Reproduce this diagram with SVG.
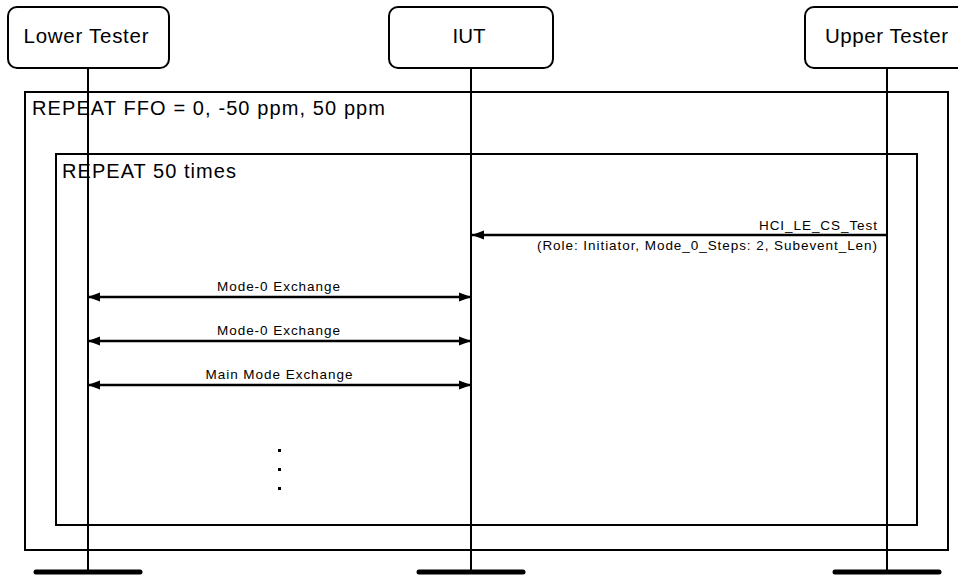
<svg xmlns="http://www.w3.org/2000/svg" width="958" height="576" viewBox="0 0 958 576">
<style>
.box{fill:#fff;stroke:#000;stroke-width:2}
.life{stroke:#000;stroke-width:2;fill:none}
.bar{stroke:#000;stroke-width:5;stroke-linecap:round}
.frame{fill:none;stroke:#000;stroke-width:2}
.msg{stroke:#000;stroke-width:2.5;fill:none}
text{font-family:"Liberation Sans",Arial,sans-serif;fill:#000}
.nlab{font-size:20.5px;text-anchor:middle}
.flab{font-size:20px}
.mlab{font-size:13.5px}
</style>
<defs>
<marker id="ah" markerWidth="12" markerHeight="10" refX="12" refY="5" orient="auto" markerUnits="userSpaceOnUse">
<path d="M0,0.5 L12,5 L0,9.5 Z" fill="#000"/>
</marker>
<marker id="ahs" markerWidth="12" markerHeight="10" refX="0" refY="5" orient="auto" markerUnits="userSpaceOnUse">
<path d="M12,0.5 L0,5 L12,9.5 Z" fill="#000"/>
</marker>
</defs>
<rect width="958" height="576" fill="#fff"/>
<g id="frames">
<rect class="frame" x="25" y="92" width="923" height="458"/>
<text class="flab" x="32" y="115" textLength="353" lengthAdjust="spacing">REPEAT FFO = 0, -50 ppm, 50 ppm</text>
<rect class="frame" x="56" y="154" width="861" height="371"/>
<text class="flab" x="62" y="178" textLength="174" lengthAdjust="spacing">REPEAT 50 times</text>
</g>
<g id="node-lower">
<rect class="box" x="8" y="7" width="161" height="61" rx="9"/>
<text class="nlab" x="86" y="43" textLength="125" lengthAdjust="spacing">Lower Tester</text>
<line class="life" x1="88" y1="68" x2="88" y2="572"/>
<line class="bar" x1="36" y1="572" x2="140" y2="572"/>
</g>
<g id="node-iut">
<rect class="box" x="389" y="7" width="164" height="61" rx="9"/>
<text class="nlab" x="469" y="43" textLength="33" lengthAdjust="spacing">IUT</text>
<line class="life" x1="471" y1="68" x2="471" y2="572"/>
<line class="bar" x1="419" y1="572" x2="523" y2="572"/>
</g>
<g id="node-upper">
<rect class="box" x="805" y="7" width="164" height="61" rx="9"/>
<text class="nlab" x="886.5" y="43" textLength="123" lengthAdjust="spacing">Upper Tester</text>
<line class="life" x1="887" y1="68" x2="887" y2="572"/>
<line class="bar" x1="835" y1="572" x2="939" y2="572"/>
</g>
<g id="connectors">
<line class="msg" x1="887" y1="235" x2="472" y2="235" marker-end="url(#ah)"/>
<text class="mlab" x="877" y="230" text-anchor="end" textLength="118" lengthAdjust="spacing">HCI_LE_CS_Test</text>
<text class="mlab" x="877" y="250" text-anchor="end" textLength="340" lengthAdjust="spacing">(Role: Initiator, Mode_0_Steps: 2, Subevent_Len)</text>
<line class="msg" x1="88" y1="297" x2="471" y2="297" marker-start="url(#ahs)" marker-end="url(#ah)"/>
<text class="mlab" x="278.5" y="291" text-anchor="middle" textLength="123" lengthAdjust="spacing">Mode-0 Exchange</text>
<line class="msg" x1="88" y1="341" x2="471" y2="341" marker-start="url(#ahs)" marker-end="url(#ah)"/>
<text class="mlab" x="278.5" y="335" text-anchor="middle" textLength="123" lengthAdjust="spacing">Mode-0 Exchange</text>
<line class="msg" x1="88" y1="385" x2="471" y2="385" marker-start="url(#ahs)" marker-end="url(#ah)"/>
<text class="mlab" x="279" y="379" text-anchor="middle" textLength="147" lengthAdjust="spacing">Main Mode Exchange</text>
</g>
<g id="dots" fill="#000">
<rect x="278" y="449" width="3" height="3"/>
<rect x="278" y="468" width="3" height="3"/>
<rect x="278" y="487" width="3" height="3"/>
</g>
</svg>
